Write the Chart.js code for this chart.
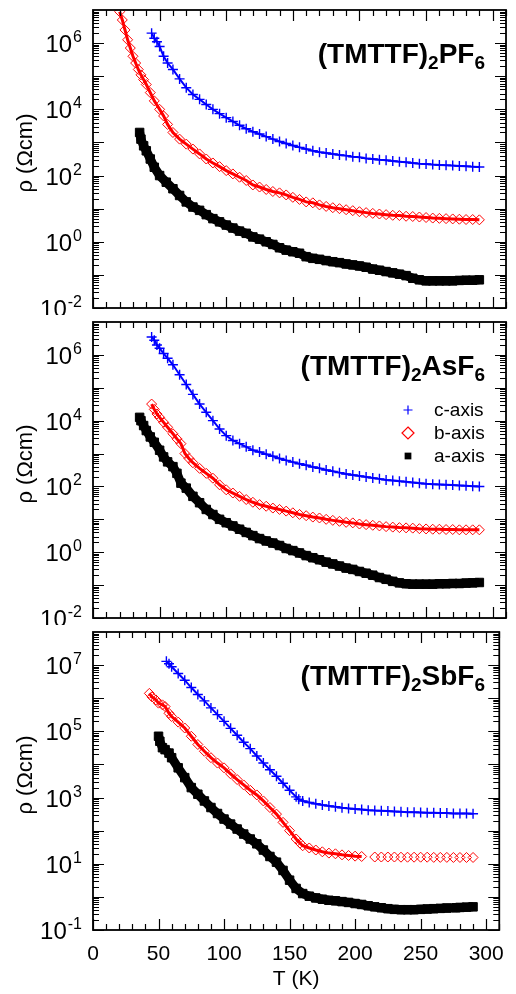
<!DOCTYPE html>
<html>
<head>
<meta charset="utf-8">
<script src="https://cdn.jsdelivr.net/npm/chart.js@4.4.0/dist/chart.umd.min.js"></script>
<style>
  html, body { margin: 0; padding: 0; background: #fff; }
  #wrap { position: relative; width: 516px; height: 994px; }
  .panel { position: absolute; left: 0; width: 516px; }
</style>
</head>
<body>
<div id="wrap">
  <div class="panel" style="top:0px;height:315px"><canvas id="p1" width="516" height="315"></canvas></div>
  <div class="panel" style="top:315px;height:310px"><canvas id="p2" width="516" height="310"></canvas></div>
  <div class="panel" style="top:625px;height:369px"><canvas id="p3" width="516" height="369"></canvas></div>
</div>
<script>
// (TMTTF)2PF6
var T_PF6_c = [44,46,48,50,53,56,60,65,70,75,80,85,90,95,100,105,110,115,120,125,130,135,140,145,150,155,160,165,170,175,180,185,190,195,200,205,210,215,220,225,230,235,240,245,250,255,260,265,270,275,280,285,290];
var rho_PF6_c = [2.0e6,1.4e6,1.1e6,7.9e5,4.0e5,2.5e5,1.6e5,8.3e4,4.5e4,2.8e4,2.0e4,1.4e4,1.0e4,7400,5600,4300,3300,2600,2100,1800,1500,1260,1070,930,810,710,630,560,510,480,450,420,400,370,355,330,316,300,290,275,263,251,240,229,224,214,209,204,200,195,191,186,182];
var T_PF6_b = [20,22,24,26,28,30,32,34,36,38,40,43,46,50,53,56,60,65,70,75,80,85,90,95,100,105,110,115,120,125,130,135,140,145,150,155,160,165,170,175,180,185,190,195,200,205,210,215,220,225,230,235,240,245,250,255,260,265,270,275,280,285,290];
var rho_PF6_b = [8.9e6,5.0e6,2.5e6,1.26e6,7.1e5,4.0e5,2.5e5,1.6e5,1.1e5,7.9e4,5.6e4,3.2e4,1.8e4,1.0e4,6300,3500,2000,1260,890,630,450,316,240,186,141,112,89,71,52,45,38,33,30,26,22,19,16,15,13,11.7,10.7,10,9.3,8.7,8.1,7.6,7.2,6.9,6.6,6.3,6.2,5.9,5.8,5.6,5.4,5.2,5.1,5.0,4.9,4.8,4.7,4.7,4.6];
var T_PF6_a = [35,36,38,40,43,46,50,55,60,65,70,75,80,85,90,95,100,105,110,115,120,125,130,135,140,145,150,155,160,165,170,175,180,185,190,195,200,205,210,215,220,225,230,235,240,245,250,255,260,265,270,275,280,285,290];
var rho_PF6_a = [2000,1260,790,560,316,178,100,63,40,25,16,11.2,8.9,6.6,5.0,4.0,3.2,2.6,2.1,1.8,1.4,1.2,1.0,0.83,0.66,0.56,0.5,0.45,0.355,0.316,0.295,0.27,0.25,0.234,0.214,0.2,0.186,0.17,0.15,0.138,0.126,0.115,0.105,0.095,0.079,0.071,0.066,0.066,0.066,0.066,0.066,0.068,0.069,0.069,0.071];

// (TMTTF)2AsF6
var T_AsF6_c = [44,46,48,50,53,56,60,65,70,75,80,85,90,95,100,105,110,115,120,125,130,135,140,145,150,155,160,165,170,175,180,185,190,195,200,205,210,215,220,225,230,235,240,245,250,255,260,265,270,275,280,285,290];
var rho_AsF6_c = [3.5e6,2.8e6,2.0e6,1.6e6,1.1e6,7.9e5,5.0e5,2.5e5,1.26e5,6.3e4,3.2e4,1.8e4,1.0e4,5600,3500,2500,2000,1600,1260,1120,950,830,710,620,550,490,440,390,355,316,288,263,240,224,209,195,182,170,158,151,145,138,132,126,120,117,115,112,110,107,105,102,100];
var T_AsF6_b = [44,46,48,50,53,56,60,63,66,69,72,75,80,85,90,95,100,105,110,115,120,125,130,135,140,145,150,155,160,165,170,175,180,185,190,195,200,205,210,215,220,225,230,235,240,245,250,255,260,265,270,275,280,285,290];
var rho_AsF6_b = [3.2e4,2.2e4,1.6e4,1.26e4,8900,6300,4000,2800,2000,1000,710,525,355,250,178,112,79,63,50,40,33,28,25,22,20,17.8,15.8,14.1,12.9,11.7,11.0,10.0,9.3,8.7,8.1,7.8,7.2,6.9,6.6,6.3,6.0,5.8,5.6,5.5,5.4,5.2,5.1,5.0,5.0,4.9,4.9,4.8,4.8,4.8,4.8];
var T_AsF6_a = [35,36,38,40,43,46,50,53,56,60,63,66,70,75,80,85,90,95,100,105,110,115,120,125,130,135,140,145,150,155,160,165,170,175,180,185,190,195,200,205,210,215,220,225,230,235,240,245,250,255,260,265,270,275,280,285,290];
var rho_AsF6_a = [1.26e4,1.0e4,7100,5000,3200,2200,1260,790,560,400,250,126,89,50,32,20,14,10,7.9,6.3,5.0,4.0,3.2,2.6,2.2,1.9,1.6,1.3,1.12,0.95,0.79,0.68,0.59,0.5,0.44,0.38,0.33,0.3,0.26,0.23,0.2,0.17,0.15,0.13,0.117,0.11,0.107,0.107,0.107,0.107,0.11,0.11,0.112,0.112,0.115,0.117,0.12];

// (TMTTF)2SbF6
var T_SbF6_c = [56,58,60,65,70,75,80,85,90,95,100,105,110,115,120,125,130,135,140,145,150,155,157,160,165,170,175,180,185,190,195,200,205,210,215,220,225,230,235,240,245,250,255,260,265,270,275,280,285,290];
var rho_SbF6_c = [1.3e7,1.1e7,8.9e6,5.6e6,3.5e6,2.1e6,1.3e6,8.3e5,5.1e5,3.2e5,2.0e5,1.23e5,7.6e4,4.7e4,3.0e4,1.8e4,1.1e4,6900,4400,2700,1660,1050,890,790,710,650,600,560,525,490,470,450,435,415,405,400,390,380,370,363,363,355,347,347,339,339,331,331,331,324];
var T_SbF6_b = [43,45,48,50,53,55,58,60,65,70,75,80,85,90,95,100,105,110,115,120,125,130,135,140,145,150,155,158,160,165,170,175,180,185,190,195,200,205,215,220,225,230,235,240,245,250,255,260,265,270,275,280,285,290];
var rho_SbF6_b = [1.4e6,1.1e6,8.9e5,7.1e5,6.3e5,5.6e5,3.5e5,2.8e5,1.9e5,1.26e5,7.1e4,4.0e4,2.5e4,1.6e4,1.1e4,7900,5200,3500,2400,1660,1200,790,500,316,178,100,56,42,35,30,26,23,21,20,18.6,17.8,17,16.6,16,16,16,16,15.8,15.8,15.8,15.8,15.8,15.6,15.6,15.6,15.5,15.5,15.5,15.5];
var T_SbF6_a = [50,51,53,55,58,60,65,70,75,80,85,90,95,100,105,110,115,120,125,130,135,140,145,150,155,160,165,170,175,180,185,190,195,200,205,210,215,220,225,230,235,240,245,250,255,260,265,270,277,280,285,290];
var rho_SbF6_a = [7.1e4,5.0e4,3.2e4,2.8e4,2.2e4,1.6e4,7900,4000,2000,1260,790,500,330,224,158,112,79,56,40,26,16.6,11.2,6.3,3.2,1.8,1.26,1.05,0.93,0.85,0.79,0.76,0.72,0.68,0.63,0.59,0.54,0.5,0.47,0.44,0.42,0.41,0.41,0.41,0.42,0.43,0.44,0.45,0.46,0.47,0.48,0.49,0.5];

var seriesNames = ['c-axis', 'b-axis', 'a-axis'];
var xTicks = [0, 50, 100, 150, 200, 250, 300];
var FONT = '"Liberation Sans", Arial, Helvetica, sans-serif';

function pts(T, R) {
    return T.map(function (t, i) { return { x: t, y: R[i] }; });
}

// redLineEnd: above this T the b-axis points are drawn as separate diamonds
function makeDatasets(Tc, Rc, Tb, Rb, Ta, Ra, redLineEnd) {
    return [{
        label: seriesNames[0],
        data: pts(Tc, Rc),
        pointStyle: 'cross',
        pointRadius: 5,
        pointBorderWidth: 1.4,
        borderColor: '#0000ff',
        backgroundColor: '#0000ff',
        showLine: true,
        borderWidth: 2
    }, {
        label: seriesNames[1],
        data: pts(Tb, Rb),
        pointStyle: 'rectRot',
        pointRadius: 5,
        pointBorderWidth: 1,
        borderColor: '#ff0000',
        backgroundColor: 'rgba(255,255,255,0)',
        showLine: true,
        borderWidth: 3,
        segment: {
            borderColor: function (c) { return c.p0.parsed.x >= redLineEnd ? 'rgba(0,0,0,0)' : undefined; }
        }
    }, {
        label: seriesNames[2],
        data: pts(Ta, Ra),
        pointStyle: 'rect',
        pointRadius: 6,
        pointBorderWidth: 1,
        borderColor: '#000000',
        backgroundColor: '#000000',
        showLine: true,
        borderWidth: 9
    }];
}

function drawMarker(ctx, style, x, y, r, color) {
    ctx.save();
    ctx.strokeStyle = color;
    ctx.fillStyle = color;
    ctx.lineWidth = 1.2;
    ctx.beginPath();
    if (style === 'cross') {
        ctx.moveTo(x - r, y); ctx.lineTo(x + r, y);
        ctx.moveTo(x, y - r); ctx.lineTo(x, y + r);
        ctx.stroke();
    } else if (style === 'rectRot') {
        ctx.moveTo(x, y - r); ctx.lineTo(x + r, y); ctx.lineTo(x, y + r); ctx.lineTo(x - r, y);
        ctx.closePath();
        ctx.stroke();
    } else {
        ctx.rect(x - r * 0.75, y - r * 0.75, r * 1.5, r * 1.5);
        ctx.fill();
    }
    ctx.restore();
}

// frame, inward ticks, y labels with exponents, panel title, legend
var decorPlugin = {
    id: 'decor',
    afterDraw: function (chart, args, opts) {
        var ctx = chart.ctx, a = chart.chartArea;
        var xs = chart.scales.x, ys = chart.scales.y;
        ctx.save();
        ctx.strokeStyle = '#000';
        ctx.lineWidth = 1.2;
        ctx.beginPath();
        for (var t = 0; t <= xs.max; t += 10) {
            var px = Math.round(xs.getPixelForValue(t)) + 0.5;
            var len = t % 50 === 0 ? 11 : 6;
            ctx.moveTo(px, a.bottom); ctx.lineTo(px, a.bottom - len);
            ctx.moveTo(px, a.top); ctx.lineTo(px, a.top + len);
        }
        var e0 = Math.round(Math.log10(ys.min)), e1 = Math.round(Math.log10(ys.max));
        for (var e = e0; e < e1; e++) {
            for (var k = 1; k <= 9; k++) {
                var py = Math.round(ys.getPixelForValue(k * Math.pow(10, e))) + 0.5;
                var l = k === 1 ? 11 : 6;
                ctx.moveTo(a.left, py); ctx.lineTo(a.left + l, py);
                ctx.moveTo(a.right, py); ctx.lineTo(a.right - l, py);
            }
        }
        ctx.stroke();
        ctx.lineWidth = 1.8;
        ctx.strokeRect(a.left, a.top, a.right - a.left, a.bottom - a.top);

        // y tick labels 10^n
        ctx.fillStyle = '#000';
        ctx.textBaseline = 'alphabetic';
        opts.exps.forEach(function (n) {
            var y = ys.getPixelForValue(Math.pow(10, n));
            ctx.font = '16px ' + FONT;
            var ew = ctx.measureText(String(n)).width;
            ctx.font = '24px ' + FONT;
            var bw = ctx.measureText('10').width;
            var right = a.left - 11;
            ctx.textAlign = 'left';
            ctx.fillText('10', right - ew - bw - 1, y + 9);
            ctx.font = '16px ' + FONT;
            ctx.fillText(String(n), right - ew, y - 1);
        });

        // y axis title
        ctx.save();
        ctx.translate(26, (a.top + a.bottom) / 2 - 6);
        ctx.rotate(-Math.PI / 2);
        ctx.font = '22px ' + FONT;
        ctx.textAlign = 'center';
        ctx.textBaseline = 'middle';
        ctx.fillText('ρ (Ωcm)', 0, 0);
        ctx.restore();

        // panel title with subscripts, right aligned
        var parts = opts.title;
        var total = 0;
        parts.forEach(function (p) {
            ctx.font = 'bold ' + (p[1] ? 19 : 28) + 'px ' + FONT;
            total += ctx.measureText(p[0]).width;
        });
        var x = 485 - total;
        var base = a.top + 53;
        ctx.textAlign = 'left';
        parts.forEach(function (p) {
            ctx.font = 'bold ' + (p[1] ? 19 : 28) + 'px ' + FONT;
            ctx.fillText(p[0], x, p[1] ? base + 6 : base);
            x += ctx.measureText(p[0]).width;
        });

        // legend
        if (opts.legend) {
            chart.data.datasets.forEach(function (ds, i) {
                var ly = a.top + 88 + i * 23;
                drawMarker(ctx, ds.pointStyle, 408, ly, i === 1 ? 6 : 4.5, ds.borderColor);
                ctx.font = '19px ' + FONT;
                ctx.textBaseline = 'middle';
                ctx.fillStyle = '#000';
                ctx.fillText(ds.label, 434, ly + 1);
            });
        }
        ctx.restore();
    }
};

function makeChart(id, datasets, yMin, yMax, exps, title, legend, showX) {
    var ctx = document.getElementById(id).getContext('2d');
    var pad = showX ? { left: 93, right: 10, top: 5, bottom: 0 }
                    : (id === 'p1' ? { left: 93, right: 10, top: 10, bottom: 5 } : { left: 93, right: 10, top: 5, bottom: 5 });
    return new Chart(ctx, {
        type: 'scatter',
        data: { datasets: datasets },
        options: {
            responsive: false,
            animation: false,
            layout: { padding: pad },
            plugins: {
                legend: { display: false },
                tooltip: { enabled: false },
                decor: { exps: exps, title: title, legend: legend }
            },
            scales: {
                x: {
                    type: 'linear',
                    min: 0,
                    max: 310,
                    display: showX,
                    grid: { display: false, drawTicks: false },
                    border: { display: false },
                    afterFit: function (s) { if (showX) s.height = 64; },
                    ticks: {
                        stepSize: 50,
                        includeBounds: false,
                        padding: 12,
                        color: '#000',
                        font: { family: FONT, size: 21 },
                        callback: function (v) { return xTicks.indexOf(v) >= 0 ? String(v) : ''; }
                    },
                    title: {
                        display: true,
                        text: 'T (K)',
                        color: '#000',
                        font: { family: FONT, size: 21 },
                        padding: { top: 0, bottom: 2 }
                    }
                },
                y: {
                    type: 'logarithmic',
                    min: yMin,
                    max: yMax,
                    display: false
                }
            }
        },
        plugins: [decorPlugin]
    });
}

makeChart('p1', makeDatasets(T_PF6_c, rho_PF6_c, T_PF6_b, rho_PF6_b, T_PF6_a, rho_PF6_a, 400),
    1e-2, 1e7, [-2, 0, 2, 4, 6], [['(TMTTF)', false], ['2', true], ['PF', false], ['6', true]], false, false);
makeChart('p2', makeDatasets(T_AsF6_c, rho_AsF6_c, T_AsF6_b, rho_AsF6_b, T_AsF6_a, rho_AsF6_a, 400),
    1e-2, 1e7, [-2, 0, 2, 4, 6], [['(TMTTF)', false], ['2', true], ['AsF', false], ['6', true]], true, false);
makeChart('p3', makeDatasets(T_SbF6_c, rho_SbF6_c, T_SbF6_b, rho_SbF6_b, T_SbF6_a, rho_SbF6_a, 205),
    1e-1, 1e8, [-1, 1, 3, 5, 7], [['(TMTTF)', false], ['2', true], ['SbF', false], ['6', true]], false, true);
</script>
</body>
</html>
